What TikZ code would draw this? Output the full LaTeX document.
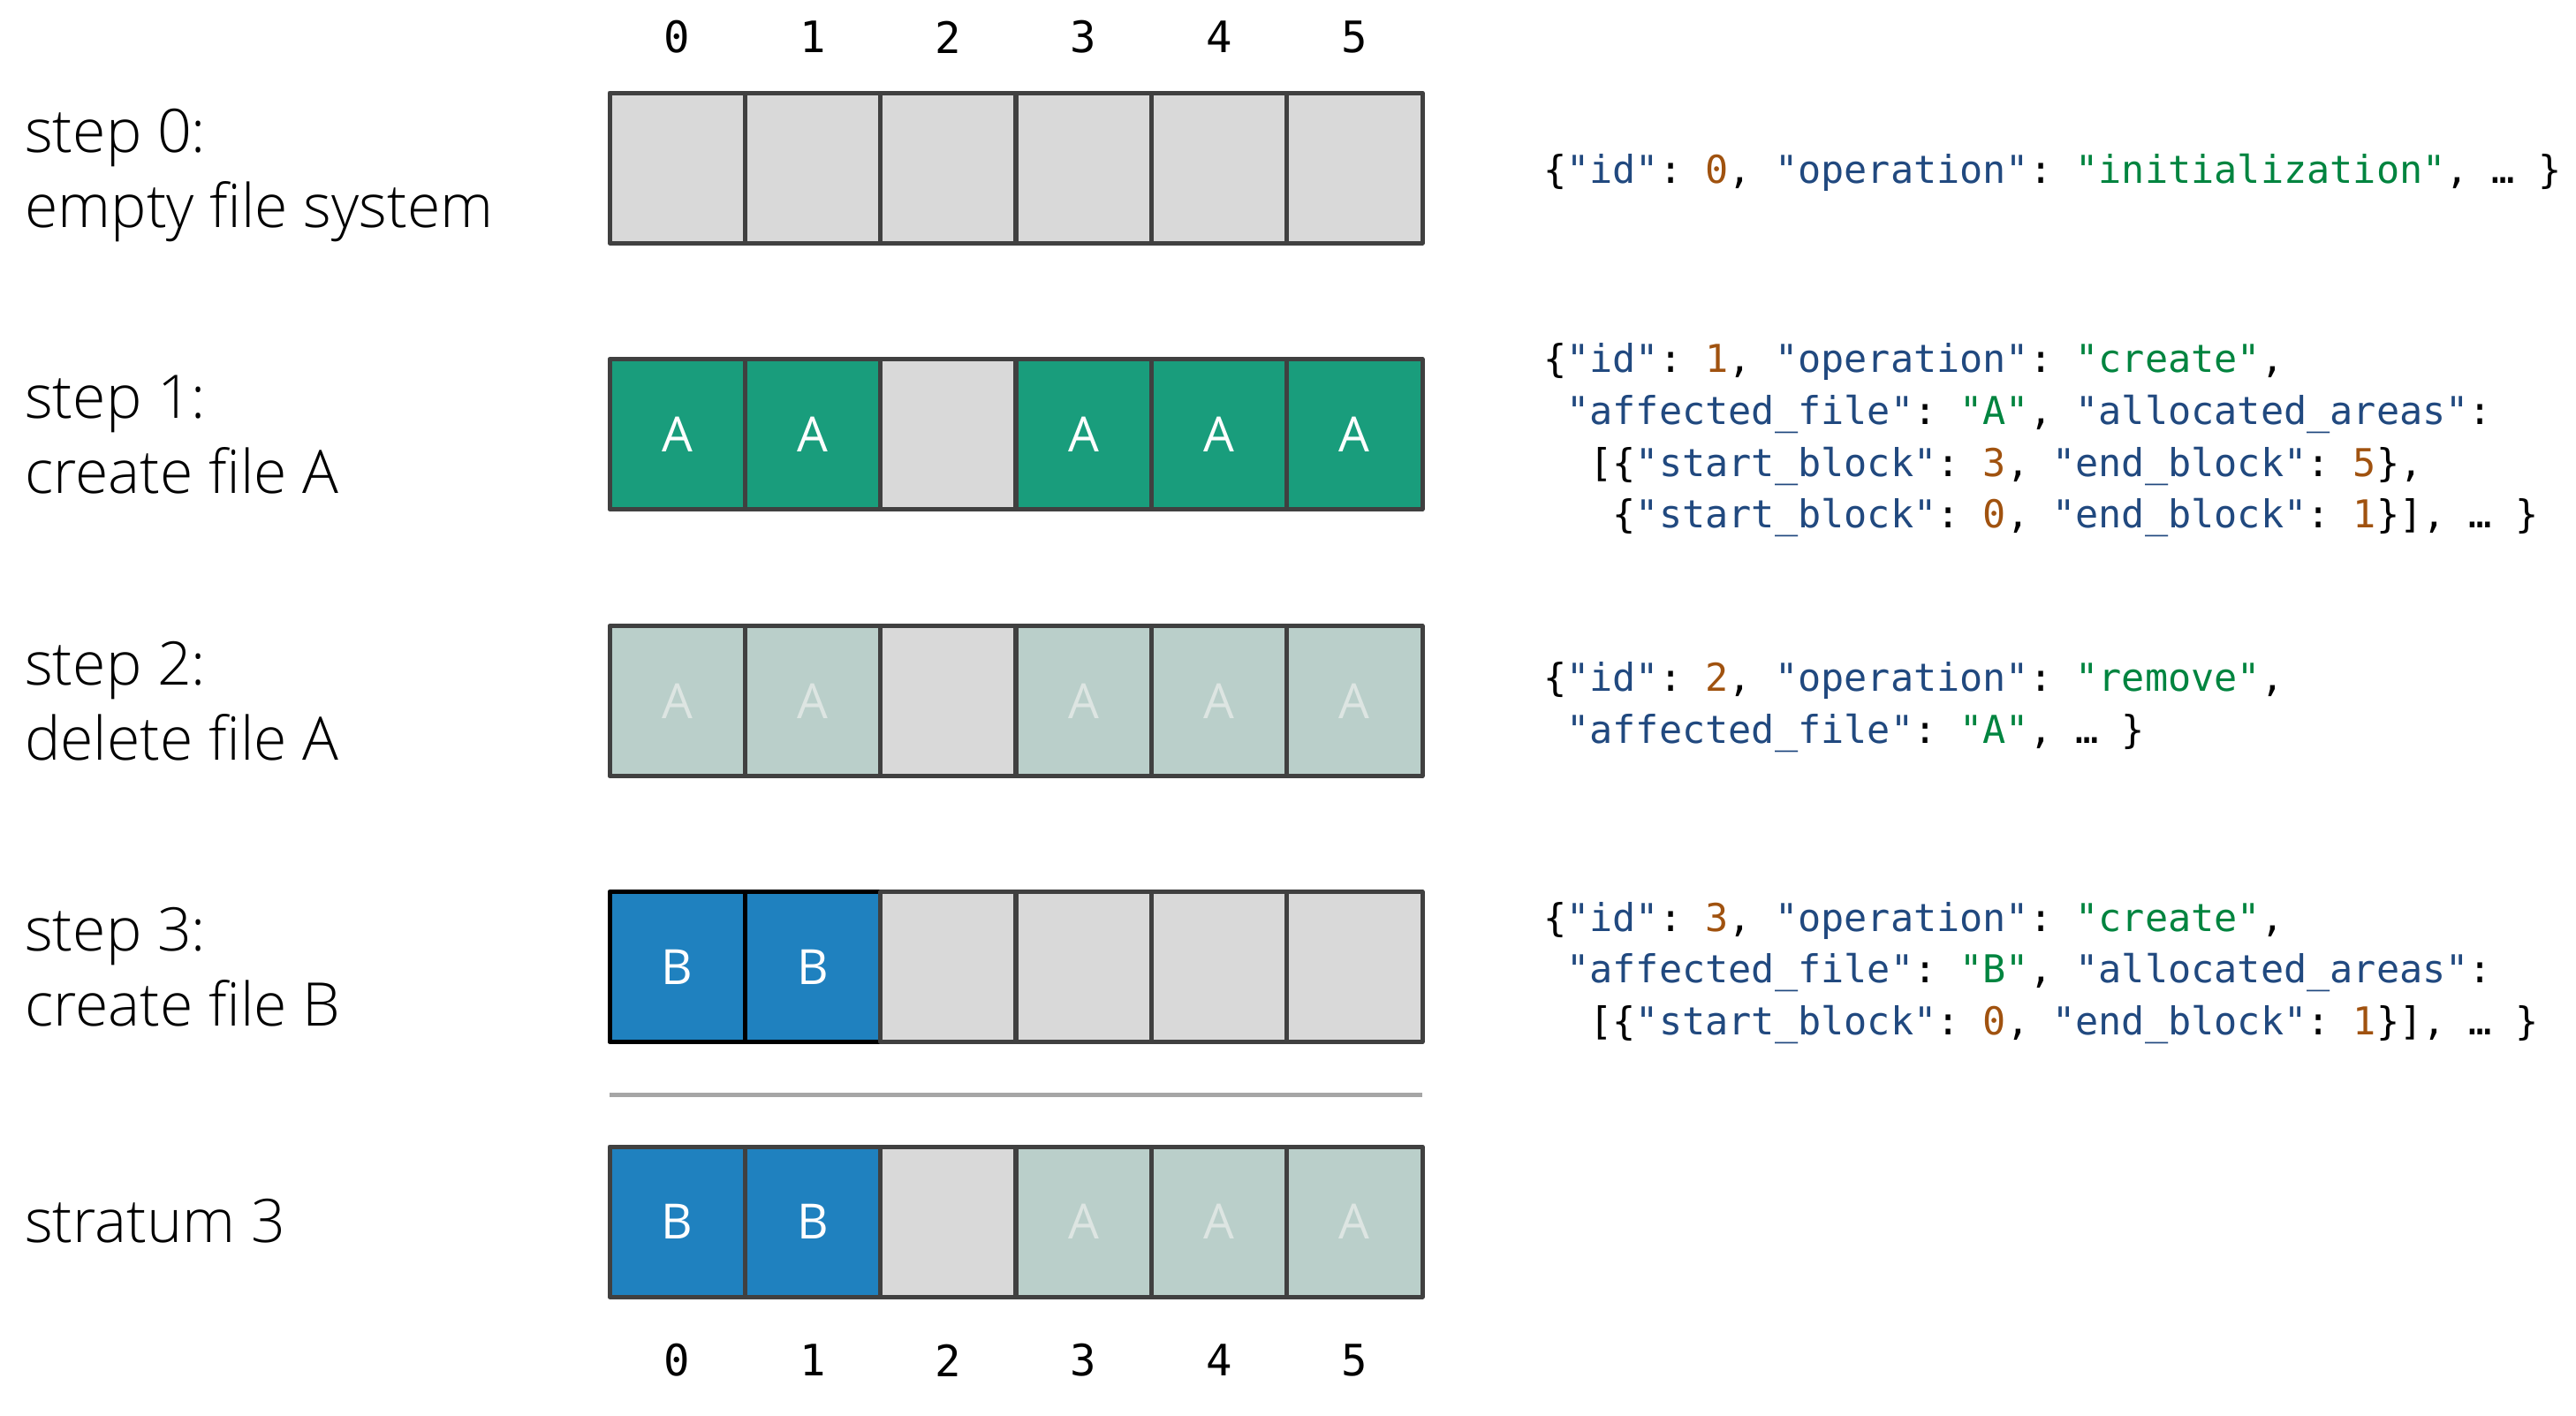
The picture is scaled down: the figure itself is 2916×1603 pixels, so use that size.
\documentclass[tikz,border=0pt]{standalone}
\usepackage{fontspec}
\setmainfont{Open Sans Light}
\newfontfamily\cellfont{Open Sans}
\setmonofont{DejaVu Sans Mono}
\definecolor{cgray}{HTML}{D9D9D9}
\definecolor{cteal}{HTML}{199D7C}
\definecolor{cblue}{HTML}{1F81BF}
\definecolor{cfade}{HTML}{BACFCA}
\definecolor{cfadetext}{HTML}{DDE5E2}
\definecolor{cborder}{HTML}{404040}
\definecolor{csep}{HTML}{A6A6A6}
\definecolor{jkey}{HTML}{21497F}
\definecolor{jnum}{HTML}{A0520F}
\definecolor{jstr}{HTML}{00843F}
\newcommand\jk[1]{\textcolor{jkey}{#1}}
\newcommand\jn[1]{\textcolor{jnum}{#1}}
\newcommand\js[1]{\textcolor{jstr}{#1}}
\newcommand\jsp{\phantom{x}}
\begin{document}
\begin{tikzpicture}[x=1pt,y=-1pt,
  cell/.style={draw=cborder, line width=5pt, line join=round, minimum width=153.3pt,
    minimum height=170pt, inner sep=0pt, font=\cellfont\fontsize{55}{60}\selectfont},
  empty/.style={cell, fill=cgray},
  fileA/.style={cell, fill=cteal, text=white},
  fileB/.style={cell, fill=cblue, text=white},
  fadedA/.style={cell, fill=cfade, text=cfadetext},
  newB/.style={fileB, draw=black},
  steplabel/.style={anchor=base west, inner sep=0pt, font=\fontsize{68}{80}\selectfont},
  idx/.style={inner sep=0pt, font=\ttfamily\fontsize{49}{52}\selectfont},
  json/.style={anchor=base west, inner sep=0pt, font=\ttfamily\fontsize{43.5}{58}\selectfont}]
\useasboundingbox (0,0) rectangle (2916,1603);
\def\cx#1{690+153.333*#1+76.667}
% column indices
\foreach \i in {0,...,5} {
  \node[idx] (top\i) at ({\cx{\i}},42) {\i};
  \node[idx] (bot\i) at ({\cx{\i}},1540) {\i};
}
% step 0
\foreach \i in {0,...,5} { \node[empty] (r0c\i) at ({\cx{\i}},190) {}; }
% step 1
\foreach \i in {0,1,3,4,5} { \node[fileA] (r1c\i) at ({\cx{\i}},491.5) {A}; }
\node[empty] (r1c2) at ({\cx{2}},491.5) {};
% step 2
\foreach \i in {0,1,3,4,5} { \node[fadedA] (r2c\i) at ({\cx{\i}},793.5) {A}; }
\node[empty] (r2c2) at ({\cx{2}},793.5) {};
% step 3
\foreach \i in {0,1} { \node[newB] (r3c\i) at ({\cx{\i}},1094.5) {B}; }
\foreach \i in {2,...,5} { \node[empty] (r3c\i) at ({\cx{\i}},1094.5) {}; }
% separator
\coordinate (sepL) at (690,1239);
\coordinate (sepR) at (1610,1239);
\draw[csep, line width=5pt] (sepL) -- (sepR);
% stratum 3
\foreach \i in {0,1} { \node[fileB] (r4c\i) at ({\cx{\i}},1383) {B}; }
\node[empty] (r4c2) at ({\cx{2}},1383) {};
\foreach \i in {3,4,5} { \node[fadedA] (r4c\i) at ({\cx{\i}},1383) {A}; }
% labels
\node[steplabel] (l0a) at (28,172) {step 0:};
\node[steplabel] (l0b) at (28,257) {empty file system};
\node[steplabel] (l1a) at (28,473.5) {step 1:};
\node[steplabel] (l1b) at (28,558.5) {create file A};
\node[steplabel] (l2a) at (28,775.5) {step 2:};
\node[steplabel] (l2b) at (28,860.5) {delete file A};
\node[steplabel] (l3a) at (28,1076.5) {step 3:};
\node[steplabel] (l3b) at (28,1161.5) {create file B};
\node[steplabel] (l4a) at (28,1406.5) {stratum 3};
% json
\node[json] (j0) at (1747,207) {\{\jk{"id"}: \jn{0}, \jk{"operation"}: \js{"initialization"}, … \}};
\node[json] (j1a) at (1747,421.5) {\{\jk{"id"}: \jn{1}, \jk{"operation"}: \js{"create"},};
\node[json] (j1b) at (1747,480) {\jsp\jk{"affected\_file"}: \js{"A"}, \jk{"allocated\_areas"}:};
\node[json] (j1c) at (1747,539) {\jsp\jsp[\{\jk{"start\_block"}: \jn{3}, \jk{"end\_block"}: \jn{5}\},};
\node[json] (j1d) at (1747,597.5) {\jsp\jsp\jsp\{\jk{"start\_block"}: \jn{0}, \jk{"end\_block"}: \jn{1}\}], … \}};
\node[json] (j2a) at (1747,782) {\{\jk{"id"}: \jn{2}, \jk{"operation"}: \js{"remove"},};
\node[json] (j2b) at (1747,841) {\jsp\jk{"affected\_file"}: \js{"A"}, … \}};
\node[json] (j3a) at (1747,1054) {\{\jk{"id"}: \jn{3}, \jk{"operation"}: \js{"create"},};
\node[json] (j3b) at (1747,1112.5) {\jsp\jk{"affected\_file"}: \js{"B"}, \jk{"allocated\_areas"}:};
\node[json] (j3c) at (1747,1171) {\jsp\jsp[\{\jk{"start\_block"}: \jn{0}, \jk{"end\_block"}: \jn{1}\}], … \}};
\end{tikzpicture}
\end{document}
